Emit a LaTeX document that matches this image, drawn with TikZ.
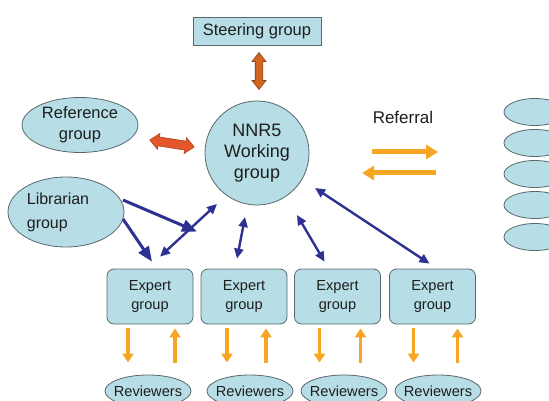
\documentclass[tikz,border=0pt]{standalone}
\usepackage{fontspec}
\setmainfont{Liberation Sans}
\usetikzlibrary{shapes.geometric,arrows.meta,calc}
\definecolor{fillb}{HTML}{B7DEE6}
\definecolor{edge}{HTML}{59686C}
\definecolor{navy}{HTML}{2E3191}
\definecolor{orng}{HTML}{F6A623}
\definecolor{brorg}{HTML}{D0661F}
\definecolor{redorg}{HTML}{E4562B}
\definecolor{txt}{HTML}{1E1E1E}
% #1 length, #2 shaft half-width, #3 head half-width, #4 head length
\newcommand{\dblockarrow}[4]{%
  (-#1/2,0) -- (-#1/2+#4,#3) -- (-#1/2+#4,#2) -- (#1/2-#4,#2) -- (#1/2-#4,#3) -- (#1/2,0)
  -- (#1/2-#4,-#3) -- (#1/2-#4,-#2) -- (-#1/2+#4,-#2) -- (-#1/2+#4,-#3) -- cycle}
\begin{document}
\begin{tikzpicture}[x=1pt,y=-1pt,
  every node/.style={text=txt},
  shapebase/.style={draw=edge, fill=fillb, line width=0.8pt, inner sep=0pt},
  rectbox/.style={shapebase, rectangle},
  expbox/.style={shapebase, rectangle, rounded corners=7pt, minimum width=86pt, minimum height=55pt, align=center, font={\fontsize{14.6}{19}\selectfont}},
  ellnode/.style={shapebase, ellipse},
  revnode/.style={shapebase, ellipse, minimum width=86pt, minimum height=32pt, inner xsep=-4pt, font={\fontsize{14.6}{18}\selectfont}},
  sideell/.style={shapebase, ellipse, minimum width=62pt, minimum height=27pt},
  bluearr/.style={draw=navy, line width=2.4pt, arrows={Triangle[length=10pt,width=9pt]-Triangle[length=10pt,width=9pt]}},
  libarr/.style={draw=navy, line width=3pt, arrows={-Triangle[length=15pt,width=12pt]}},
  refarr/.style={draw=orng, line width=5pt, arrows={-Triangle[length=12pt,width=14pt]}},
  revarr/.style={draw=orng, line width=3.6pt, arrows={-Triangle[length=9pt,width=11pt]}},
  blockstyle/.style={line width=0.6pt, line join=miter}
]
\useasboundingbox (0,0) rectangle (549,401);
\clip (0,0) rectangle (549,401);
\fill[white] (0,0) rectangle (549,401);

% top
\node[rectbox, minimum width=128pt, minimum height=28pt, font={\fontsize{16.5}{20}\selectfont}] (steer) at (257,31) {Steering group};

% centre
\node[shapebase, circle, minimum size=104pt, align=center, font={\fontsize{18}{21}\selectfont}] (nnr) at (257,153) {NNR5\\Working\\group};
\node[ellnode, minimum width=116pt, minimum height=55pt, align=center, font={\fontsize{16.5}{21}\selectfont}] (ref) at (80,125) {Reference\\group};

% block double arrows
\begin{scope}[shift={(259,71)}, rotate=90]
  \filldraw[blockstyle, fill=brorg, draw=brorg!65!black] \dblockarrow{37}{3.8}{7}{9};
\end{scope}
\begin{scope}[shift={(172,143.5)}, rotate=-9]
  \filldraw[blockstyle, fill=redorg, draw=redorg!75!black] \dblockarrow{45}{4.5}{8}{9};
\end{scope}

\node[ellnode, minimum width=116pt, minimum height=70pt, align=left, font={\fontsize{16}{24}\selectfont}] (lib) at (66,212) {Librarian\hspace*{16pt}\\group};

% referral
\node[font={\fontsize{17}{20}\selectfont}] (refl) at (403,117) {Referral};
\draw[refarr] ($(refl)+(-31,35)$) -- ($(refl)+(35,35)$);
\draw[refarr] ($(refl)+(33,56)$) -- ($(refl)+(-41,56)$);

% side ellipses
\foreach \i/\yy in {1/112,2/143,3/174,4/205,5/237}{
  \node[sideell] (s\i) at (535,\yy) {};
}

% expert groups
\node[expbox] (e1) at (150,296.5) {Expert\\group};
\node[expbox] (e2) at (244,296.5) {Expert\\group};
\node[expbox] (e3) at (337.5,296.5) {Expert\\group};
\node[expbox] (e4) at (432.5,296.5) {Expert\\group};

% reviewers
\node[revnode] (rv1) at (148,391) {Reviewers};
\node[revnode] (rv2) at (250,391) {Reviewers};
\node[revnode] (rv3) at (344,391) {Reviewers};
\node[revnode] (rv4) at (438,391) {Reviewers};

% blue connectors
\draw[bluearr] ($(nnr)+(-40,51)$) -- ($(e1.north)+(10,-12)$);
\draw[bluearr] ($(nnr)+(-12,64)$) -- ($(e2.north)+(-7,-10)$);
\draw[bluearr] ($(nnr)+(40,62)$) -- ($(e3.north)+(-13,-7)$);
\draw[bluearr] ($(nnr)+(58,35)$) -- ($(e4.north)+(-3,-5)$);
\draw[libarr] ($(lib)+(57,-12)$) -- ($(e1.north)+(47,-37)$);
\draw[libarr] ($(lib)+(57,7)$) -- ($(e1.north)+(2,-7)$);

% expert <-> reviewers
\foreach \i/\dx/\ux in {1/-22/25,2/-17/22,3/-18/23,4/-19/25}{
  \draw[revarr] ($(e\i.south)+(\dx,4)$) -- ($(e\i.south |- rv\i.north)+(\dx,-12)$);
  \draw[revarr] ($(e\i.south |- rv\i.north)+(\ux,-12)$) -- ($(e\i.south)+(\ux,4)$);
}
\end{tikzpicture}
\end{document}
